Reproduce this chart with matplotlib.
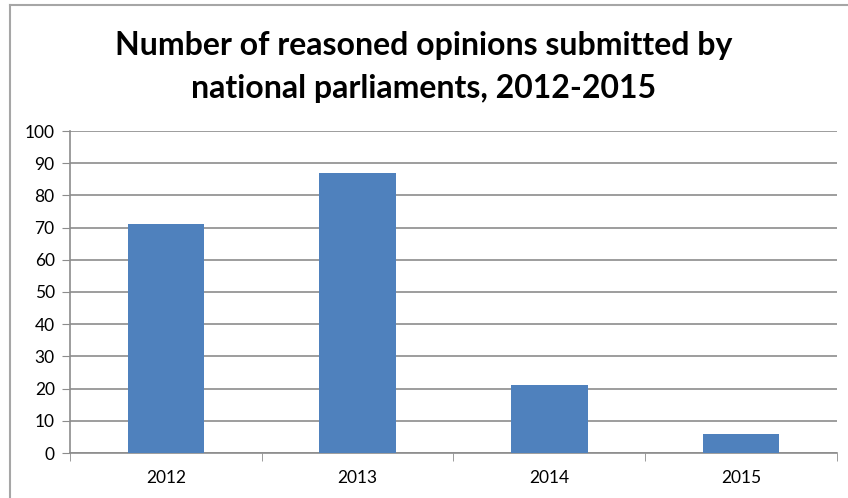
import matplotlib
matplotlib.use('Agg')
import matplotlib.pyplot as plt
from matplotlib.lines import Line2D

years = ['2012', '2013', '2014', '2015']
opinions = [71, 87, 21, 6]
yticks = list(range(0, 101, 10))

plt.rcParams['font.family'] = ['Lato', 'DejaVu Sans']

fig = plt.figure(figsize=(8.48, 4.98), dpi=100)
ax = fig.add_axes([70/848, 45/498, 767/848, 322/498])

x = range(len(years))
ax.bar(x, opinions, width=0.4, color='#4f81bd', zorder=3)
ax.set_xlim(-0.5, len(years) - 0.5)
ax.set_ylim(0, 100)
ax.set_yticks(yticks)
ax.yaxis.grid(True, color='#8c8c8c', linewidth=1.2, zorder=0)

ax.set_xticks(list(x))
ax.set_xticklabels(years)
ax.set_xticks([i - 0.5 for i in range(len(years) + 1)], minor=True)
ax.tick_params(axis='x', which='major', length=0, pad=12, labelsize=12.5)
ax.tick_params(axis='x', which='minor', length=6, color='#8c8c8c', direction='out')
ax.tick_params(axis='y', length=6, color='#8c8c8c', labelsize=12.5, pad=5)

for side in ['top', 'right']:
    ax.spines[side].set_visible(False)
for side in ['left', 'bottom']:
    ax.spines[side].set_color('#8c8c8c')
    ax.spines[side].set_linewidth(1.2)

fig.text(0.5, 0.908, 'Number of reasoned opinions submitted by', ha='center', va='center',
         fontsize=23, fontweight='bold')
fig.text(0.5, 0.822, 'national parliaments, 2012-2015', ha='center', va='center',
         fontsize=23, fontweight='bold')

# chart-area border (cropped on the right/bottom)
fig.add_artist(Line2D([9.5/848, 9.5/848], [0, 1 - 5/498], transform=fig.transFigure,
                      color='#a6a6a6', linewidth=1.5))
fig.add_artist(Line2D([9.5/848, 1], [1 - 5/498, 1 - 5/498], transform=fig.transFigure,
                      color='#a6a6a6', linewidth=1.5))

fig.savefig('out.png', dpi=100)
